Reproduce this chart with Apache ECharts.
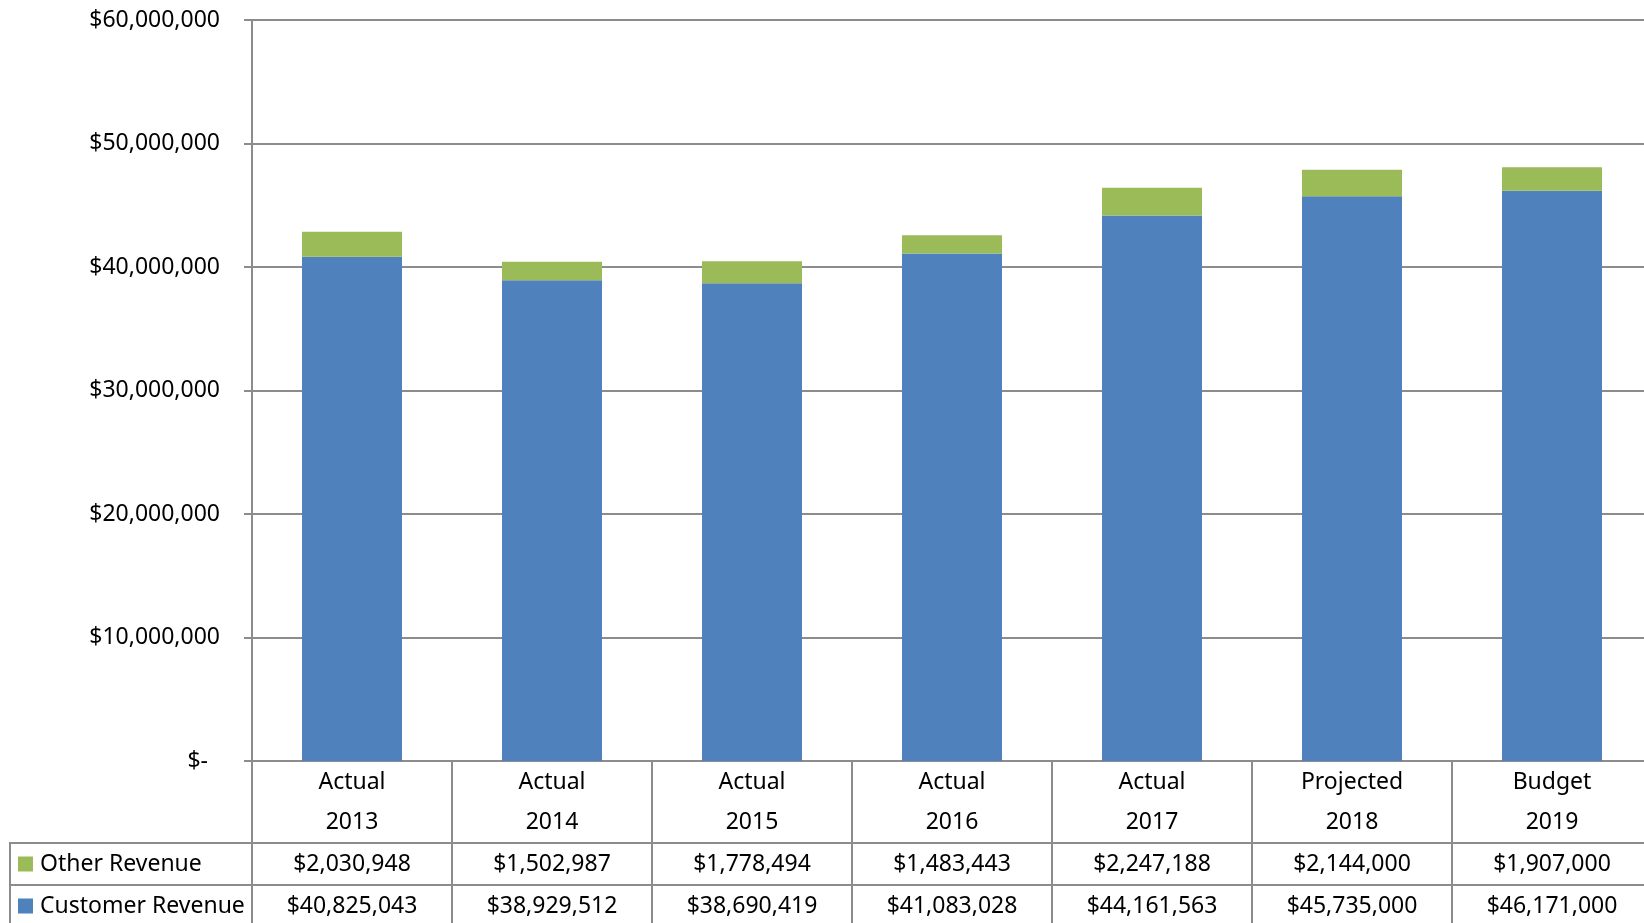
<!DOCTYPE html>
<html>
<head>
<meta charset="utf-8">
<script src="https://cdn.jsdelivr.net/npm/echarts@6/dist/echarts.min.js"></script>
<style>
  html, body { margin: 0; padding: 0; background: #fff; }
  #chart { width: 1644px; height: 923px; }
</style>
</head>
<body>
<div id="chart"></div>
<script>
// Revenue by year: period type, year, and the two stacked revenue components
const periodNames = ['Actual', 'Actual', 'Actual', 'Actual', 'Actual', 'Projected', 'Budget'];
const years = ['2013', '2014', '2015', '2016', '2017', '2018', '2019'];
const otherRevenue = [2030948, 1502987, 1778494, 1483443, 2247188, 2144000, 1907000];
const customerRevenue = [40825043, 38929512, 38690419, 41083028, 44161563, 45735000, 46171000];
const seriesNames = ['Other Revenue', 'Customer Revenue'];

const FONT = '"Noto Sans", sans-serif';
const FONT_SIZE = 23;
const GREY = '#8c8c8c';
const BLUE = '#4f81bd';
const GREEN = '#9bbb59';

// Layout of the plot and the data table beneath it
const GRID_LEFT = 252, GRID_TOP = 20, GRID_WIDTH = 1400, GRID_HEIGHT = 741;
const CAT_ROW = 82, VAL_ROW = 42, TABLE_LEFT = 10;

function money(v) {
  const s = String(Math.round(Math.abs(v)));
  return '$' + s.replace(/\B(?=(\d{3})+(?!\d))/g, ',');
}

const categories = periodNames.map((p, i) => p + '\n' + years[i]);

const chart = echarts.init(document.getElementById('chart'));

const tableAxis = (values, offset) => ({
  type: 'category',
  gridIndex: 0,
  position: 'bottom',
  offset: offset,
  data: values.map(money),
  axisLine: { show: true, lineStyle: { color: GREY, width: 2 } },
  axisTick: { show: true, interval: 0, alignWithLabel: false, length: VAL_ROW + 4,
              lineStyle: { color: GREY, width: 2 } },
  axisLabel: { interval: 0, margin: 0, color: '#000', fontFamily: FONT,
               fontSize: FONT_SIZE, lineHeight: VAL_ROW },
  splitLine: { show: false }
});

const tableTop = GRID_TOP + GRID_HEIGHT + CAT_ROW;
const LEGEND_LINE = 30;

chart.setOption({
  animation: false,
  backgroundColor: '#fff',
  textStyle: { fontFamily: FONT },
  grid: { left: GRID_LEFT, top: GRID_TOP, width: GRID_WIDTH, height: GRID_HEIGHT,
          containLabel: false, outerBoundsMode: 'none' },
  legend: {
    data: seriesNames,
    orient: 'vertical',
    left: TABLE_LEFT + 8,
    top: tableTop + (VAL_ROW - LEGEND_LINE) / 2,
    padding: 0,
    itemWidth: 15,
    itemHeight: 15,
    itemGap: VAL_ROW - LEGEND_LINE,
    icon: 'rect',
    selectedMode: false,
    textStyle: { color: '#000', fontFamily: FONT, fontSize: FONT_SIZE, lineHeight: LEGEND_LINE, padding: [0, 0, 0, 2] }
  },
  xAxis: [
    {
      type: 'category',
      data: categories,
      position: 'bottom',
      axisLine: { show: true, lineStyle: { color: GREY, width: 2 } },
      axisTick: { show: true, interval: 0, alignWithLabel: false, length: CAT_ROW,
                  lineStyle: { color: GREY, width: 2 } },
      axisLabel: { interval: 0, margin: 1, color: '#000', fontFamily: FONT,
                   fontSize: FONT_SIZE, lineHeight: 40 },
      splitLine: { show: false }
    },
    tableAxis(otherRevenue, CAT_ROW),
    tableAxis(customerRevenue, CAT_ROW + VAL_ROW)
  ],
  yAxis: {
    type: 'value',
    min: 0,
    max: 60000000,
    interval: 10000000,
    axisLine: { show: true, lineStyle: { color: GREY, width: 2 } },
    axisTick: { show: true, length: 8, lineStyle: { color: GREY, width: 2 } },
    splitLine: { show: true, lineStyle: { color: GREY, width: 2 } },
    axisLabel: {
      margin: 32,
      color: '#000',
      fontFamily: FONT,
      fontSize: FONT_SIZE,
      formatter: v => v === 0 ? '{z|$-}' : money(v),
      rich: { z: { fontFamily: FONT, fontSize: FONT_SIZE, color: '#000', padding: [0, 12, 0, 0] } }
    }
  },
  graphic: [
    {
      type: 'polyline',
      silent: true,
      shape: { points: [[GRID_LEFT, tableTop], [TABLE_LEFT, tableTop], [TABLE_LEFT, 930]] },
      style: { stroke: GREY, lineWidth: 2, fill: null }
    },
    {
      type: 'line',
      silent: true,
      shape: { x1: TABLE_LEFT, y1: tableTop + VAL_ROW, x2: GRID_LEFT, y2: tableTop + VAL_ROW },
      style: { stroke: GREY, lineWidth: 2 }
    }
  ],
  series: [
    {
      name: 'Customer Revenue',
      type: 'bar',
      stack: 'revenue',
      xAxisIndex: 0,
      barWidth: '50%',
      itemStyle: { color: BLUE },
      data: customerRevenue
    },
    {
      name: 'Other Revenue',
      type: 'bar',
      stack: 'revenue',
      xAxisIndex: 0,
      barWidth: '50%',
      itemStyle: { color: GREEN },
      data: otherRevenue
    }
  ]
});
</script>
</body>
</html>
